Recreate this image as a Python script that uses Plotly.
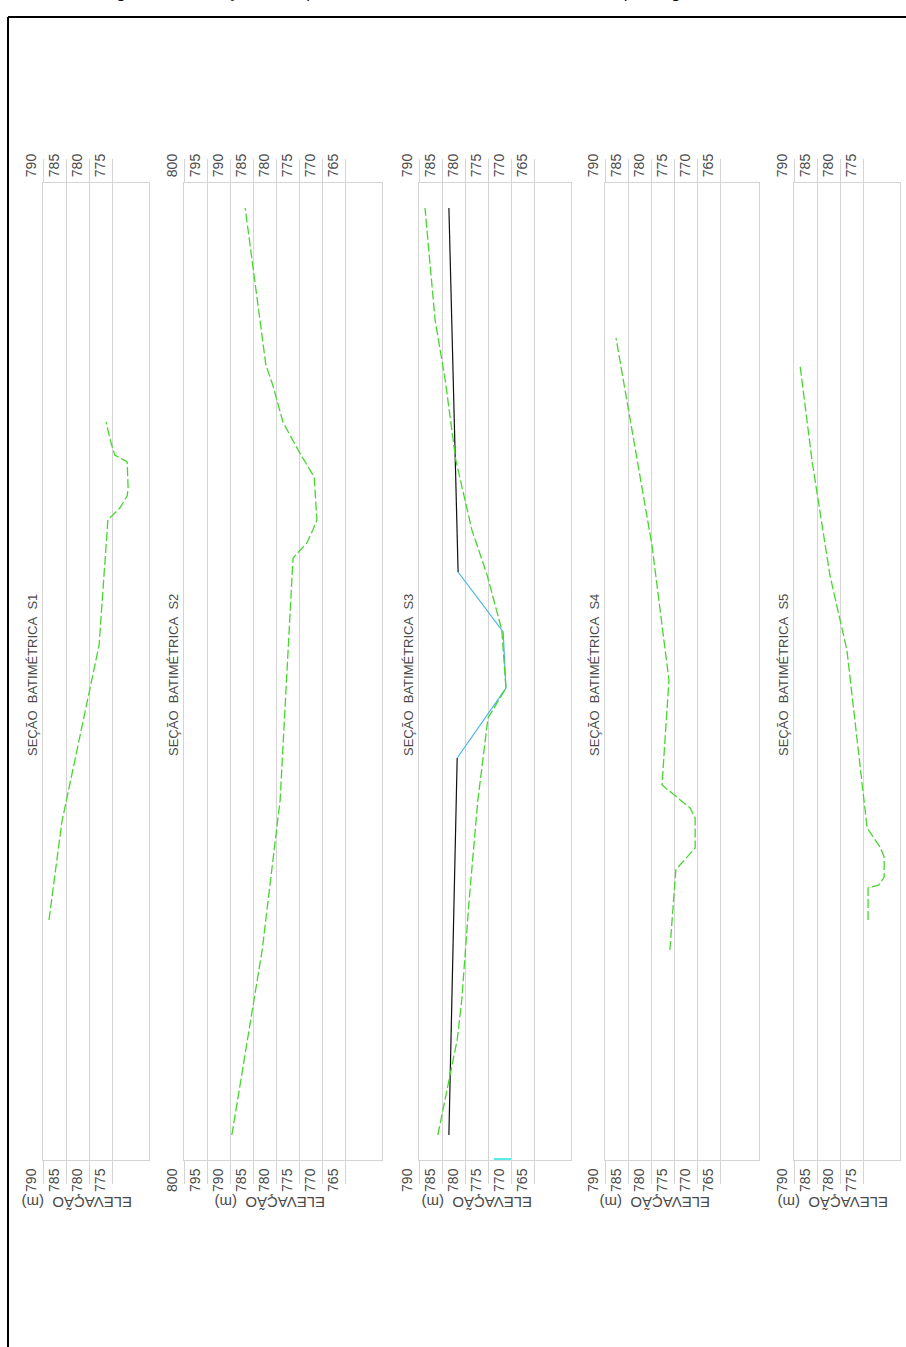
import plotly.graph_objects as go

# ---------------- data: bathymetric cross-sections ----------------
# distance along the section (m) and bed elevation (m)
s1_dist = [120, 169, 257.5, 320, 326, 332, 336, 349, 352.5, 358.5, 369]
s1_elev = [788.7, 785.9, 777.8, 775.9, 773.3, 771.7, 771.5, 771.7, 774.4, 775.2, 776.3]

s2_dist = [12.5, 105, 180, 301, 302.5, 308.5, 315, 320, 341.5, 355, 369, 387.5, 397.5, 476]
s2_elev = [789.6, 783.0, 779.1, 776.3, 775.7, 773.3, 772.0, 771.1, 771.7, 775.2, 778.5, 780.7, 782.2, 786.7]

s3_dist = [12.5, 40, 60, 80, 130, 180, 221, 236, 265, 292.5, 315, 350, 390, 420, 476]
s3_elev = [785.9, 783.5, 781.7, 780.7, 779.1, 777.2, 775.0, 771.1, 772.0, 775.2, 778.5, 782.0, 784.3, 786.5, 788.7]

# S3 reference line (black) and channel line (blue)
s3_ref_low_dist = [12.5, 201]
s3_ref_low_elev = [783.5, 781.7]
s3_ref_up_dist = [294, 476]
s3_ref_up_elev = [781.5, 783.5]
s3_chan_dist = [201, 236, 264, 294]
s3_chan_elev = [781.7, 771.1, 771.7, 781.5]
s3_mark_dist = [0.5, 0.5]
s3_mark_elev = [773.7, 770.0]

s4_dist = [105, 145, 147.5, 156, 171, 176, 187.5, 240, 307.5, 411]
s4_elev = [775.9, 774.6, 773.7, 770.4, 770.4, 771.5, 777.6, 776.1, 779.8, 787.6]

s5_dist = [120, 136, 137.5, 141.5, 151.5, 156.5, 166, 255, 292.5, 350, 397.5]
s5_elev = [773.9, 773.9, 771.5, 770.4, 770.4, 771.3, 774.1, 778.5, 782.2, 786.1, 788.7]

section_names = ["S1", "S2", "S3", "S4", "S5"]
elev_ranges = [(790, 767), (800, 757), (790, 757), (790, 756.5), (790, 767)]
tick_values = [
    [790, 785, 780, 775],
    [800, 795, 790, 785, 780, 775, 770, 765],
    [790, 785, 780, 775, 770, 765],
    [790, 785, 780, 775, 770, 765],
    [790, 785, 780, 775],
]
dist_range = (0, 488.5)

# ---------------- page geometry (pixels) ----------------
W, H = 906, 1347
PX_PER_M = 4.6
panel_left_px = [43, 184, 419, 605, 794]
box_top_px, box_bottom_px = 183, 1160
title_y_px = 675
elev_label_px = [77, 270, 477, 655, 833]
elev_label_y_px = 1203

GRID = "#d4d4d4"
TXT = "#4a4a4a"
GREEN = "#46d62e"
BLUE = "#4bb4ea"
FONT = "Liberation Sans, Arial, sans-serif"


def px_x(p):
    return p / W


def px_y(p):
    return 1 - p / H


fig = go.Figure()

profiles = [
    (s1_dist, s1_elev),
    (s2_dist, s2_elev),
    (s3_dist, s3_elev),
    (s4_dist, s4_elev),
    (s5_dist, s5_elev),
]

layout = dict(
    width=W,
    height=H,
    margin=dict(l=0, r=0, t=0, b=0, autoexpand=False),
    paper_bgcolor="white",
    plot_bgcolor="white",
    showlegend=False,
    font=dict(family=FONT, color=TXT),
)

annotations = []

for i, name in enumerate(section_names):
    k = i + 1
    kt = i + 6  # overlaying axis carrying the top labels
    hi, lo = elev_ranges[i]
    left = panel_left_px[i]
    right = left + (hi - lo) * PX_PER_M
    dom = [px_x(left), px_x(right)]
    ydom = [px_y(box_bottom_px), px_y(box_top_px)]
    ticks = tick_values[i]

    # labels sit beside the extended tick lines, just left of each line
    common = dict(
        range=[hi, lo],
        tickvals=ticks,
        ticktext=[str(t) for t in ticks],
        tickangle=-90,
        ticks="outside",
        ticklen=23,
        tickwidth=1,
        tickcolor=GRID,
        tickfont=dict(size=14, color=TXT, family=FONT),
        ticklabelstandoff=-21,
        ticklabelshift=12,
        zeroline=False,
        fixedrange=True,
        automargin=False,
    )
    layout[f"xaxis{k}"] = dict(
        domain=dom,
        anchor=f"y{k}",
        side="bottom",
        showgrid=True,
        gridcolor=GRID,
        gridwidth=1,
        showline=True,
        mirror=True,
        linecolor=GRID,
        linewidth=1,
        **common,
    )
    layout[f"xaxis{kt}"] = dict(
        overlaying=f"x{k}",
        matches=f"x{k}",
        anchor=f"y{k}",
        side="top",
        showgrid=False,
        showline=False,
        **common,
    )
    layout[f"yaxis{k}"] = dict(
        domain=ydom,
        anchor=f"x{k}",
        range=list(dist_range),
        showticklabels=False,
        ticks="",
        showgrid=False,
        zeroline=False,
        showline=True,
        mirror=True,
        linecolor=GRID,
        linewidth=1,
        fixedrange=True,
        automargin=False,
    )

    # empty trace so the top-label axis is drawn
    fig.add_trace(go.Scatter(x=[], y=[], xaxis=f"x{kt}", yaxis=f"y{k}",
                             hoverinfo="skip"))

    d, e = profiles[i]
    if name == "S3":
        for xs, ys, col, w in [
            (s3_ref_low_elev, s3_ref_low_dist, "#111111", 1.2),
            (s3_ref_up_elev, s3_ref_up_dist, "#111111", 1.2),
            (s3_chan_elev, s3_chan_dist, BLUE, 1.2),
            (s3_mark_elev, s3_mark_dist, "#22e3e3", 1.5),
        ]:
            fig.add_trace(go.Scatter(x=xs, y=ys, mode="lines",
                                     line=dict(color=col, width=w),
                                     xaxis=f"x{k}", yaxis=f"y{k}",
                                     hoverinfo="skip"))
    fig.add_trace(go.Scatter(x=e, y=d, mode="lines",
                             line=dict(color=GREEN, width=1.3, dash="9px,3px"),
                             xaxis=f"x{k}", yaxis=f"y{k}", name=name))

    # section title, rotated along the left side of the panel
    annotations.append(dict(
        text=f"SEÇÃO\u00a0\u00a0BATIMÉTRICA\u00a0\u00a0{name}",
        x=px_x(left - 11), y=px_y(title_y_px), xref="paper", yref="paper",
        textangle=-90, showarrow=False, xanchor="center", yanchor="middle",
        font=dict(size=13, color=TXT, family=FONT),
    ))
    # axis caption below the bottom tick labels
    annotations.append(dict(
        text="ELEVAÇÃO\u00a0\u00a0(m)",
        x=px_x(elev_label_px[i]), y=px_y(elev_label_y_px), xref="paper", yref="paper",
        textangle=180, showarrow=False, xanchor="center", yanchor="middle",
        font=dict(size=15, color=TXT, family=FONT),
    ))

# figure caption running off the top of the sheet
annotations.append(dict(
    text="Figura 4.12 – Seções de topobatimetria levantadas no reservatório e prolongamento",
    x=px_x(100), y=px_y(4), xref="paper", yref="paper",
    showarrow=False, xanchor="left", yanchor="bottom",
    font=dict(size=17, color="#111111", family=FONT),
))

layout["annotations"] = annotations
layout["shapes"] = [
    dict(type="line", xref="paper", yref="paper",
         x0=px_x(8), x1=px_x(W + 5), y0=px_y(17), y1=px_y(17),
         line=dict(color="black", width=2)),
    dict(type="line", xref="paper", yref="paper",
         x0=px_x(8), x1=px_x(8), y0=px_y(17), y1=px_y(H + 5),
         line=dict(color="black", width=2)),
]

fig.update_layout(**layout)
fig.write_html("out.html")
